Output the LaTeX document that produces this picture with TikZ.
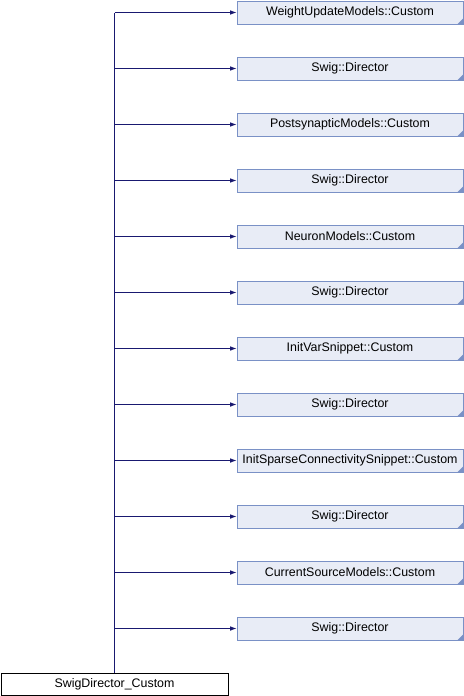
\documentclass[tikz,border=0pt]{standalone}
\usepackage{fontspec}
\setmainfont{Liberation Sans}
\usetikzlibrary{arrows.meta, positioning, calc}

\definecolor{boxfill}{HTML}{E8ECF6}
\definecolor{boxline}{HTML}{7A91C6}
\definecolor{edgeblue}{HTML}{191970}

\begin{document}
\begin{tikzpicture}[
  x=0.75pt, y=-0.75pt,
  >={Latex[length=5pt, width=3.5pt]},
  basenode/.style={draw=boxline, fill=boxfill, rectangle, minimum height=17.25pt, minimum width=169.5pt, inner sep=0pt, font=\fontsize{9.3}{10}\selectfont},
  leafnode/.style={draw=black, fill=white, rectangle, minimum height=16.5pt, minimum width=170.25pt, inner sep=0pt, font=\fontsize{9.3}{10}\selectfont},
  inherit/.style={->, edgeblue, line width=0.75pt}
]
\useasboundingbox (0,0) rectangle (464,696);

% Base classes
\foreach \name [count=\i from 0] in {WeightUpdateModels::Custom, Swig::Director, PostsynapticModels::Custom, Swig::Director, NeuronModels::Custom, Swig::Director, InitVarSnippet::Custom, Swig::Director, InitSparseConnectivitySnippet::Custom, Swig::Director, CurrentSourceModels::Custom, Swig::Director}{
  \node[basenode] (base\i) at (350, 12.5+56*\i) {\name};
  \fill[boxline] (base\i.south east) -- ++(0,-6) -- ++(-6,6) -- cycle;
}

% Derived class
\node[leafnode] (sdc) at (114.5, 684) {SwigDirector\_Custom};

% Inheritance arrows
\coordinate (trunk) at (sdc.north);
\draw[edgeblue, line width=0.75pt] (trunk) -- (trunk |- base0.west);
\foreach \i in {0,...,11}{
  \draw[inherit] (trunk |- base\i.west) -- (base\i.west);
}
\end{tikzpicture}
\end{document}
